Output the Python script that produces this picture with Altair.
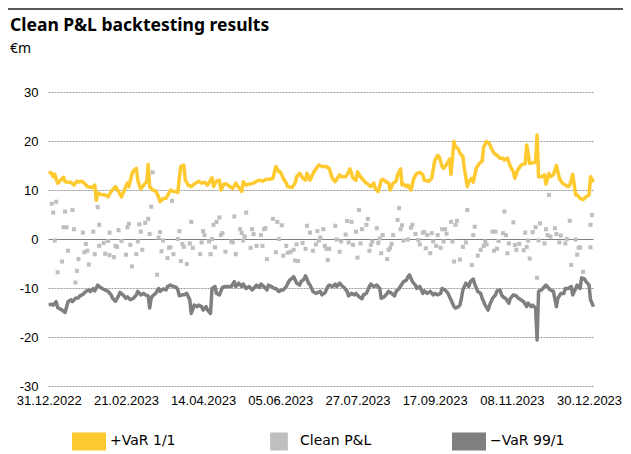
import altair as alt
import pandas as pd

TITLE = "Clean P&L backtesting results"
SUBTITLE = "€m"
SERIES = ["+VaR 1/1", "Clean P&L", "\u2212VaR 99/1"]
COLORS = ["#FFC930", "#BFBFBF", "#7F7F7F"]
START = "2022-12-31"
X_TICKS = [(2022, 12, 31), (2023, 2, 21), (2023, 4, 14), (2023, 6, 5),
           (2023, 7, 27), (2023, 9, 17), (2023, 11, 8), (2023, 12, 30)]
Y_TICKS = [30, 20, 10, 0, -10, -20, -30]

# +VaR 1/1 (days after 31.12.2022, value in EUR m)
var_up_day = [0, 2, 3, 4, 6, 7, 10, 11, 13, 15, 17, 19, 20, 22, 24, 26, 29, 31, 32, 33,
              35, 38, 40, 42, 45, 47, 49, 51, 53, 54, 56, 57, 59, 60, 61, 62, 64, 65, 66, 67,
              68, 70, 72, 74, 75, 77, 79, 80, 82, 84, 86, 87, 88, 89, 91, 92, 94, 96, 98, 101,
              103, 105, 107, 110, 111, 113, 115, 116, 118, 120, 122, 124, 126, 128, 130, 131, 133, 135, 138, 140,
              142, 144, 147, 149, 151, 153, 155, 156, 158, 160, 161, 164, 166, 167, 169, 171, 173, 174, 176, 177,
              179, 182, 184, 187, 189, 191, 193, 194, 196, 197, 200, 201, 203, 205, 207, 208, 210, 212, 214, 215,
              217, 219, 220, 222, 224, 225, 227, 229, 230, 232, 234, 235, 237, 238, 239, 241, 242, 244, 246, 248,
              250, 252, 253, 256, 258, 260, 262, 263, 265, 266, 268, 270, 271, 273, 274, 276, 277, 279, 280, 282,
              283, 285, 286, 288, 290, 292, 293, 295, 297, 298, 300, 302, 304, 306, 307, 309, 311, 313, 314, 316,
              318, 319, 321, 322, 323, 324, 326, 328, 329, 330, 332, 334, 335, 337, 338, 340, 342, 344, 346, 348,
              350, 351, 353, 355, 356, 358, 360, 361, 363, 364, 365, 367]
var_up_val = [13.7, 13.4, 12.7, 13.2, 11.4, 11.7, 12.6, 11.7, 11.6, 11.6, 11.0, 11.8, 11.6, 11.8, 11.4, 10.7, 10.5, 11.0, 7.9, 9.4,
              9.1, 9.0, 8.6, 9.7, 10.7, 9.7, 8.6, 10.0, 11.4, 10.7, 13.2, 13.9, 14.4, 12.0, 11.0, 10.2, 11.0, 11.4, 11.7, 15.2,
              10.7, 10.0, 9.8, 8.6, 7.6, 8.2, 8.3, 8.8, 10.0, 9.7, 9.7, 9.5, 12.5, 14.8, 15.1, 12.0, 11.0, 10.7, 11.2, 11.8,
              11.4, 11.6, 11.0, 12.5, 10.7, 11.8, 12.0, 10.0, 11.2, 11.2, 10.7, 10.3, 11.4, 10.5, 9.7, 11.7, 11.0, 11.2, 11.4, 11.8,
              12.0, 11.8, 12.2, 12.2, 12.4, 14.8, 13.7, 13.7, 12.4, 11.4, 10.7, 10.5, 11.4, 12.7, 13.4, 12.5, 12.0, 13.4, 12.0, 12.7,
              13.9, 15.1, 14.8, 14.8, 14.4, 12.4, 11.7, 12.2, 13.1, 12.7, 12.7, 13.1, 14.3, 12.4, 12.0, 13.7, 12.7, 12.0, 11.4, 11.2,
              10.7, 11.4, 10.3, 9.7, 12.0, 12.2, 11.7, 11.4, 10.0, 11.4, 11.8, 13.1, 14.3, 11.0, 11.2, 10.7, 11.0, 10.0, 12.4, 13.4,
              13.6, 13.1, 12.0, 11.8, 12.4, 15.9, 17.1, 16.8, 14.8, 14.4, 15.2, 16.3, 13.2, 19.9, 18.8, 18.4, 17.5, 16.8, 14.4, 10.7,
              11.7, 12.4, 11.6, 14.4, 15.4, 15.9, 18.8, 19.9, 19.4, 18.6, 17.5, 17.1, 16.5, 16.5, 16.1, 16.5, 14.8, 13.7, 12.4, 14.1,
              15.0, 15.2, 15.4, 19.2, 17.5, 15.4, 15.6, 15.6, 21.2, 12.7, 12.7, 13.1, 11.2, 13.4, 12.7, 13.1, 15.0, 12.4, 11.4, 11.0,
              10.7, 11.0, 13.2, 9.0, 9.0, 8.3, 8.0, 8.4, 8.8, 9.0, 12.7, 11.6]

# -VaR 99/1
var_dn_day = [0, 2, 3, 5, 6, 9, 11, 13, 15, 16, 18, 20, 21, 23, 25, 27, 28, 30, 31, 33,
              34, 36, 38, 40, 42, 43, 45, 47, 48, 50, 52, 53, 55, 57, 59, 60, 62, 64, 65, 67,
              68, 69, 70, 72, 74, 75, 77, 79, 80, 82, 84, 86, 87, 88, 90, 91, 93, 95, 96, 98,
              100, 101, 103, 104, 106, 107, 109, 110, 112, 113, 115, 117, 119, 121, 123, 125, 126, 128, 130, 131,
              133, 135, 137, 138, 140, 142, 143, 145, 147, 148, 150, 152, 153, 155, 157, 158, 160, 162, 164, 165,
              167, 169, 170, 172, 173, 175, 176, 178, 180, 183, 184, 186, 188, 189, 191, 193, 194, 196, 197, 199,
              201, 202, 204, 206, 207, 209, 211, 212, 214, 216, 217, 219, 221, 223, 224, 226, 228, 229, 231, 233,
              234, 236, 238, 239, 241, 242, 243, 245, 247, 248, 250, 252, 253, 255, 257, 259, 260, 262, 264, 265,
              267, 269, 270, 272, 273, 274, 276, 277, 278, 279, 281, 283, 284, 286, 287, 289, 291, 292, 294, 296,
              297, 299, 301, 302, 304, 305, 306, 308, 310, 311, 313, 315, 316, 318, 320, 322, 323, 325, 326, 328,
              329, 330, 332, 334, 335, 337, 338, 340, 342, 343, 345, 347, 348, 350, 352, 353, 355, 356, 358, 359,
              361, 362, 364, 365, 367]
var_dn_val = [-13.5, -13.3, -13.5, -12.8, -14.0, -14.5, -15.0, -12.8, -12.4, -12.8, -12.1, -12.0, -11.6, -11.3, -10.7, -10.4, -10.7, -10.1, -10.6, -9.4,
              -9.7, -10.1, -10.4, -10.7, -11.4, -12.1, -12.7, -11.6, -10.9, -11.4, -12.1, -11.8, -12.4, -12.1, -11.4, -10.7, -11.4, -11.1, -11.4, -11.6,
              -14.1, -12.1, -11.6, -11.1, -10.1, -10.7, -10.2, -10.4, -9.7, -9.4, -9.7, -9.9, -10.4, -11.6, -11.4, -11.4, -11.1, -12.4, -15.2, -13.5,
              -13.8, -13.5, -13.8, -14.5, -13.8, -14.5, -15.2, -10.1, -9.7, -11.1, -11.4, -9.9, -9.7, -9.7, -9.7, -8.7, -9.7, -9.0, -9.7, -9.2,
              -10.1, -9.7, -10.4, -10.1, -9.4, -9.9, -9.2, -9.7, -10.4, -9.4, -9.7, -10.1, -10.1, -10.7, -10.4, -10.4, -9.7, -8.5, -8.0, -7.7,
              -9.0, -9.4, -8.7, -8.2, -7.5, -9.0, -9.4, -10.7, -11.1, -10.7, -11.4, -11.0, -9.7, -9.4, -9.7, -9.2, -9.7, -9.0, -9.4, -9.9,
              -10.7, -11.6, -11.1, -11.4, -11.1, -11.8, -12.2, -11.4, -11.1, -9.7, -9.2, -9.7, -9.4, -10.1, -12.1, -11.8, -11.1, -10.7, -11.1, -11.6,
              -10.7, -10.1, -9.2, -8.7, -8.4, -7.7, -7.3, -8.7, -9.4, -10.1, -9.7, -11.1, -10.6, -11.1, -10.7, -11.4, -11.1, -11.4, -11.1, -10.1,
              -10.4, -11.1, -11.8, -13.1, -13.8, -14.1, -13.8, -13.5, -12.1, -10.4, -9.0, -9.7, -8.7, -8.2, -9.2, -10.7, -11.1, -12.1, -13.5, -14.5,
              -13.5, -12.1, -11.4, -10.6, -10.4, -11.4, -11.8, -12.2, -13.1, -12.1, -11.4, -11.6, -12.0, -12.4, -12.8, -13.8, -13.1, -13.8, -13.5, -14.1,
              -20.6, -10.7, -10.4, -9.7, -9.4, -10.1, -10.4, -10.7, -13.8, -12.1, -11.1, -11.1, -10.1, -10.1, -9.7, -11.4, -10.1, -9.4, -10.1, -7.9,
              -8.2, -8.7, -9.4, -12.4, -13.8]

# Clean P&L
pnl_day = [2, 3, 5, 4, 6, 9, 10, 12, 11, 13, 16, 17, 18, 19, 20, 23, 24, 25, 26, 27,
           30, 31, 33, 34, 34, 37, 38, 40, 41, 41, 44, 45, 46, 47, 49, 52, 53, 54, 55, 56,
           59, 60, 61, 62, 63, 65, 67, 68, 69, 70, 73, 74, 75, 76, 77, 80, 81, 82, 83, 84,
           87, 88, 89, 90, 91, 93, 95, 96, 97, 102, 103, 104, 105, 108, 109, 110, 111, 112, 113, 115,
           116, 117, 119, 123, 124, 125, 126, 129, 130, 131, 132, 133, 136, 137, 138, 140, 143, 144, 145, 146,
           147, 151, 153, 154, 155, 157, 158, 160, 161, 163, 165, 166, 168, 167, 171, 173, 174, 176, 178, 180,
           181, 182, 183, 185, 186, 187, 189, 188, 193, 194, 196, 197, 200, 201, 202, 204, 205, 207, 208, 209,
           210, 211, 214, 215, 216, 217, 218, 221, 222, 223, 224, 225, 228, 229, 230, 231, 232, 235, 236, 237,
           238, 239, 242, 244, 245, 247, 249, 250, 252, 253, 254, 255, 257, 258, 259, 261, 262, 264, 265, 266,
           267, 268, 271, 272, 273, 274, 275, 277, 279, 281, 282, 285, 286, 287, 289, 291, 293, 294, 295, 299,
           300, 301, 302, 303, 306, 307, 308, 309, 310, 313, 314, 315, 317, 320, 321, 322, 323, 324, 326, 328,
           329, 330, 331, 334, 335, 336, 337, 338, 341, 342, 344, 345, 348, 349, 351, 352, 355, 356, 357, 358,
           360, 365, 365, 366]
pnl_val = [7.2, 5.4, 7.6, -0.3, -6.8, -4.6, 2.4, 2.4, 5.6, -2.4, 5.9, 2.0, -8.9, -6.5, -4.1, 1.3, -2.7, -1.0, -2.4, -5.2,
           1.5, -3.1, 6.5, -1.4, 2.9, -0.8, -3.0, -0.4, 1.3, -3.3, -3.7, -1.4, -1.6, 1.8, -0.4, -3.2, 2.4, 3.1, -1.2, -5.6,
           -3.1, -0.5, 3.0, 1.5, -2.2, 3.3, 4.1, 1.0, 6.6, 13.6, -7.3, 0.3, 1.4, -2.5, -0.3, -3.9, -1.8, -1.7, 7.8, -3.1,
           0.0, 1.6, -4.5, -1.0, -1.6, -5.1, -0.9, 3.5, -1.8, -3.1, -0.7, 1.6, 0.8, -0.5, -3.1, 0.0, 2.9, -1.7, 3.5, 4.4,
           0.8, 1.2, -2.6, -0.5, -0.7, 4.6, -3.1, 2.0, 1.2, -0.3, 0.5, 5.4, -1.8, 2.0, 1.0, -1.4, 0.8, -1.4, 2.0, 2.2,
           -4.1, 4.1, -2.7, 3.5, 0.0, 2.8, -3.4, -1.4, -2.8, -2.6, -2.2, -4.4, -4.5, -1.1, -0.8, -2.0, 2.7, 1.3, -2.4, -1.1,
           1.6, -0.3, 0.3, 2.0, -1.4, -2.0, -2.0, -4.3, 2.7, -0.1, -2.6, -0.5, 0.9, 3.7, -0.7, 3.5, -1.2, 1.5, -3.8, 5.9,
           -0.9, 2.0, 2.9, 4.1, -2.4, -1.2, -0.5, 2.2, -0.8, 0.1, -2.9, 0.8, -4.1, -2.2, -1.8, -1.0, 0.8, 3.9, 6.3, 2.0,
           2.8, -0.3, -0.1, 2.3, 2.9, 1.0, -0.2, -1.1, 1.3, 1.4, -1.9, 0.8, -2.9, 1.2, -0.5, -1.4, 0.8, -1.8, 2.0, -0.5,
           2.0, 1.1, 3.5, -0.5, -4.6, 2.9, 3.7, -4.2, -1.6, -0.7, 5.9, -5.3, 0.8, 2.5, -3.4, -2.2, -1.4, -0.5, -1.1, 1.5,
           -2.4, 1.5, -2.0, -0.4, 1.2, 5.6, 0.8, -2.9, -0.9, 3.4, -1.2, -2.2, -1.0, -2.3, 1.3, -1.6, -0.3, -4.0, 1.4, 2.4,
           -7.9, -0.3, 3.2, -0.9, 2.0, 0.8, 9.0, 0.5, 2.2, 1.0, -0.7, 0.7, -0.9, 0.0, 3.7, -5.3, -0.1, -3.2, -1.8, -1.7,
           -6.7, -1.7, 2.9, 4.9]


def frame(days, vals, name):
    return pd.DataFrame({
        "date": pd.Timestamp(START) + pd.to_timedelta(days, unit="D"),
        "value": vals,
        "series": name,
    })


up_df = frame(var_up_day, var_up_val, SERIES[0])
pnl_df = frame(pnl_day, pnl_val, SERIES[1])
dn_df = frame(var_dn_day, var_dn_val, SERIES[2])

AXIS_FONT = "Liberation Sans"
TEXT_FONT = "Noto Sans"
LEGEND_FONT = "DejaVu Sans"
WIDE = "M-1,-0.53H1V0.53H-1Z"
SQUARE = "M-0.52,-0.53H0.52V0.53H-0.52Z"

color_scale = alt.Scale(domain=SERIES, range=COLORS)
shape_scale = alt.Scale(domain=SERIES, range=[WIDE, SQUARE, WIDE])

x_enc = alt.X(
    "date:T",
    scale=alt.Scale(domain=[alt.DateTime(year=2022, month=12, date=30, hours=12),
                            alt.DateTime(year=2024, month=1, date=1, hours=16)]),
    axis=alt.Axis(
        values=[alt.DateTime(year=y, month=m, date=d) for (y, m, d) in X_TICKS],
        format="%d.%m.%Y", grid=False, domain=False, ticks=False, title=None,
        labelFont=AXIS_FONT, labelFontSize=13, labelColor="#000",
        labelPadding=8, labelOverlap=False, labelFlush=False,
    ),
)
y_enc = alt.Y(
    "value:Q",
    scale=alt.Scale(domain=[-30, 30], nice=False, zero=False),
    axis=alt.Axis(
        values=Y_TICKS, domain=False, ticks=False, title=None,
        labelFont=AXIS_FONT, labelFontSize=13, labelColor="#000", labelPadding=10,
        labelExpr="replace(datum.label, '\u2212', '-')",
        grid=True, gridWidth=1,
        gridColor={"condition": {"test": "datum.value === 0", "value": "#808080"}, "value": "#9a9a9a"},
        gridDash={"condition": {"test": "datum.value === 0", "value": []}, "value": [2, 1]},
    ),
)

up = alt.Chart(up_df).mark_line(strokeWidth=3.5, strokeJoin="round", color=COLORS[0]).encode(
    x=x_enc, y=y_enc, detail="series:N",
)
dn = alt.Chart(dn_df).mark_line(strokeWidth=3.5, strokeJoin="round", color=COLORS[2]).encode(
    x=x_enc, y=y_enc, detail="series:N",
)
pnl = alt.Chart(pnl_df).mark_point(filled=True, size=60, opacity=1).encode(
    x=x_enc, y=y_enc,
    color=alt.Color("series:N", scale=color_scale, legend=alt.Legend(
        orient="none", legendX=24, legendY=332, direction="horizontal", title=None,
        columns=3, gridAlign="all", columnPadding=77,
        symbolSize=1156, symbolStrokeWidth=0, labelOffset=4,
        labelFont=LEGEND_FONT, labelFontSize=14, labelColor="#000",
    )),
    shape=alt.Shape("series:N", scale=shape_scale),
)
top_rule = alt.Chart(pd.DataFrame({"k": [0]})).mark_rule(
    color="#222", strokeWidth=1.5, clip=False
).encode(x=alt.value(-40), x2=alt.value(583), y=alt.value(-83))

chart = alt.layer(top_rule, up, pnl, dn).properties(
    width=545, height=294,
    autosize=alt.AutoSizeParams(type="none"),
    padding={"left": 40, "top": 84, "right": 30, "bottom": 68},
    title=alt.TitleParams(
        text=TITLE, subtitle=SUBTITLE, anchor="start", frame="group", dx=-38, dy=76, offset=28,
        font=TEXT_FONT, fontSize=17.5, fontWeight="bold", color="#000",
        subtitleFont=TEXT_FONT, subtitleFontSize=14, subtitleColor="#000", subtitlePadding=8,
    ),
).configure_view(stroke=None)

chart.save("out.html", embed_options={"renderer": "svg", "actions": False})
